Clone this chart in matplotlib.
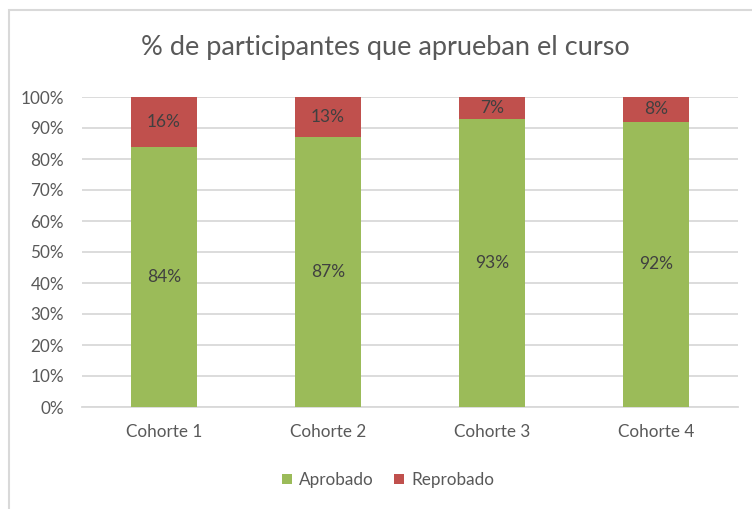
import matplotlib.pyplot as plt
import matplotlib.patches as mpatches
import numpy as np

cohortes = ['Cohorte 1', 'Cohorte 2', 'Cohorte 3', 'Cohorte 4']
aprobado = [84, 87, 93, 92]
reprobado = [16, 13, 7, 8]

verde = '#9BBB59'
rojo = '#C0504D'
gris = '#595959'

plt.rcParams['font.family'] = ['Lato', 'DejaVu Sans']

W, H = 752, 509
fig = plt.figure(figsize=(W / 100, H / 100), dpi=100)
ax = fig.add_axes([82 / W, 1 - 407 / H, (738 - 82) / W, (407 - 97) / H])

# marco del grafico
fig.patches.append(mpatches.Rectangle((9 / W, -0.1), 1.2, 1 - 10 / H + 0.1,
                                      transform=fig.transFigure, fill=False,
                                      edgecolor='#D9D9D9', linewidth=1.5))

x = np.arange(len(cohortes))
b1 = ax.bar(x, aprobado, width=0.4, color=verde, label='Aprobado', zorder=3)
b2 = ax.bar(x, reprobado, width=0.4, bottom=aprobado, color=rojo, label='Reprobado', zorder=3)

for i in range(len(cohortes)):
    ax.text(x[i], aprobado[i] / 2, f'{aprobado[i]}%', ha='center', va='center',
            fontsize=12.5, color='#404040', zorder=4)
    ax.text(x[i], aprobado[i] + reprobado[i] / 2, f'{reprobado[i]}%', ha='center',
            va='center', fontsize=12.5, color='#404040', zorder=4)

ax.set_xlim(-0.5, 3.5)
ax.set_ylim(0, 100)
ax.set_yticks(range(0, 101, 10))
ax.set_yticklabels([f'{v}%' for v in range(0, 101, 10)])
ax.set_xticks(x)
ax.set_xticklabels(cohortes)
ax.tick_params(axis='both', length=0, labelsize=12.3, colors=gris)
ax.tick_params(axis='y', pad=13)
ax.tick_params(axis='x', pad=12)
ax.grid(axis='y', color='#D9D9D9', linewidth=1.3, zorder=0)
for s in ['top', 'right', 'left']:
    ax.spines[s].set_visible(False)
ax.spines['bottom'].set_color('#D9D9D9')
ax.spines['bottom'].set_linewidth(1.3)

fig.text(385 / W, 1 - 48 / H, '% de participantes que aprueban el curso',
         ha='center', va='center', fontsize=19.5, color=gris)

leg = fig.legend(handles=[b1, b2], loc='center', bbox_to_anchor=(388 / W, 1 - 480 / H),
                 ncol=2, frameon=False, fontsize=12.3, handlelength=0.6, handleheight=0.6,
                 handletextpad=0.4, columnspacing=1.2)
for t in leg.get_texts():
    t.set_color(gris)

fig.savefig('out.png', dpi=100)
